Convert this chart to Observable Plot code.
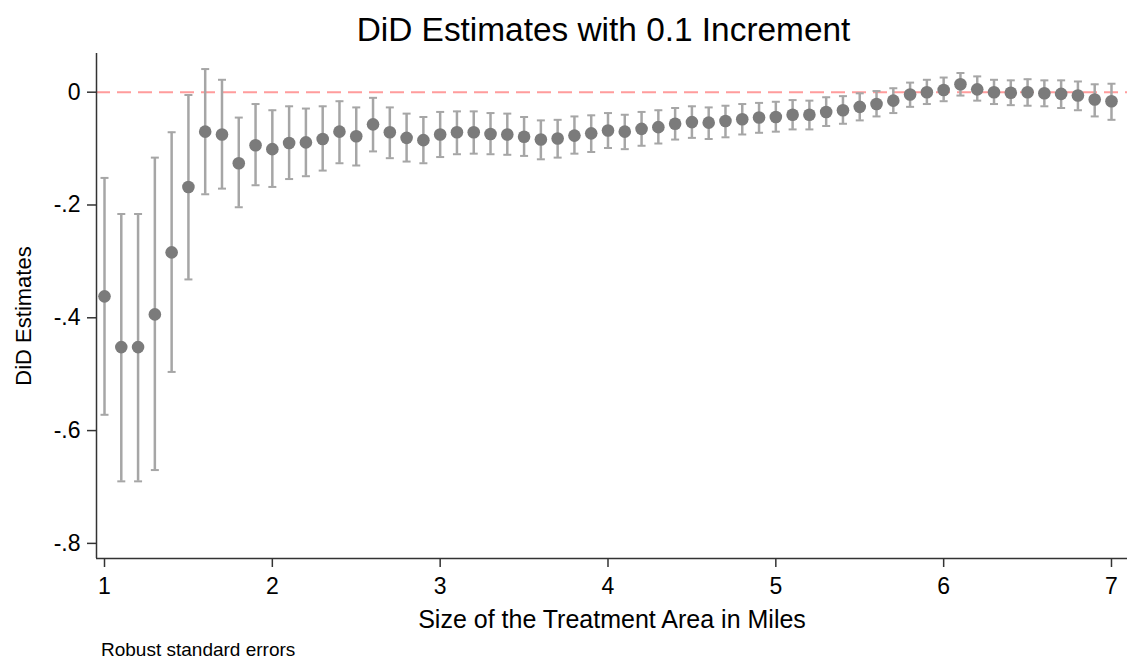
<!DOCTYPE html>
<html>
<head>
<meta charset="utf-8">
<script src="https://cdn.jsdelivr.net/npm/d3@7"></script>
<script src="https://cdn.jsdelivr.net/npm/@observablehq/plot@0.6"></script>
<style>
  html, body { margin: 0; padding: 0; background: #fff; }
  #wrap { position: relative; width: 1127px; height: 660px; overflow: hidden; font-family: "Liberation Sans", Arial, sans-serif; }
  #title { position: absolute; top: 13.4px; left: 603.5px; transform: translateX(-50%); font-size: 33.4px; line-height: 33.4px; white-space: nowrap; color: #000; }
  #chart { position: absolute; top: 50px; left: 0; }
  #caption { position: absolute; top: 640px; left: 101px; font-size: 19px; line-height: 19px; white-space: nowrap; color: #000; }
</style>
</head>
<body>
<div id="wrap">
  <div id="title">DiD Estimates with 0.1 Increment</div>
  <div id="chart"></div>
  <div id="caption">Robust standard errors</div>
</div>
<script>
const miles = [1.0,1.1,1.2,1.3,1.4,1.5,1.6,1.7,1.8,1.9,
               2.0,2.1,2.2,2.3,2.4,2.5,2.6,2.7,2.8,2.9,
               3.0,3.1,3.2,3.3,3.4,3.5,3.6,3.7,3.8,3.9,
               4.0,4.1,4.2,4.3,4.4,4.5,4.6,4.7,4.8,4.9,
               5.0,5.1,5.2,5.3,5.4,5.5,5.6,5.7,5.8,5.9,
               6.0,6.1,6.2,6.3,6.4,6.5,6.6,6.7,6.8,6.9,7.0];
const estimate = [-0.362,-0.452,-0.452,-0.394,-0.284,-0.168,-0.070,-0.075,-0.126,-0.094,
                  -0.101,-0.090,-0.089,-0.083,-0.070,-0.078,-0.057,-0.071,-0.081,-0.085,
                  -0.075,-0.071,-0.071,-0.074,-0.075,-0.079,-0.084,-0.082,-0.077,-0.073,
                  -0.068,-0.070,-0.065,-0.062,-0.056,-0.053,-0.054,-0.051,-0.048,-0.045,
                  -0.044,-0.040,-0.040,-0.035,-0.032,-0.026,-0.021,-0.015,-0.004,0.000,
                  0.004,0.014,0.005,0.000,-0.001,0.000,-0.002,-0.003,-0.006,-0.013,-0.016];
const lower = [-0.572,-0.690,-0.690,-0.670,-0.496,-0.332,-0.181,-0.171,-0.204,-0.165,
               -0.168,-0.154,-0.149,-0.139,-0.126,-0.130,-0.105,-0.117,-0.123,-0.126,
               -0.115,-0.110,-0.109,-0.110,-0.111,-0.113,-0.119,-0.116,-0.109,-0.106,
               -0.099,-0.101,-0.095,-0.091,-0.084,-0.081,-0.083,-0.080,-0.075,-0.072,
               -0.070,-0.066,-0.066,-0.060,-0.056,-0.050,-0.043,-0.037,-0.026,-0.021,
               -0.016,-0.006,-0.015,-0.021,-0.023,-0.024,-0.025,-0.028,-0.032,-0.043,-0.049];
const upper = [-0.152,-0.216,-0.216,-0.116,-0.071,-0.005,0.041,0.022,-0.045,-0.021,
               -0.032,-0.025,-0.029,-0.025,-0.016,-0.027,-0.010,-0.027,-0.038,-0.044,
               -0.035,-0.034,-0.034,-0.037,-0.038,-0.044,-0.050,-0.049,-0.043,-0.041,
               -0.037,-0.040,-0.035,-0.032,-0.028,-0.025,-0.027,-0.024,-0.021,-0.019,
               -0.017,-0.014,-0.015,-0.009,-0.007,-0.002,0.002,0.007,0.017,0.022,
               0.026,0.034,0.028,0.022,0.021,0.023,0.021,0.021,0.019,0.014,0.015];
const xTicks = [1,2,3,4,5,6,7];
const yTicks = [0,-0.2,-0.4,-0.6,-0.8];
const xDomain = [0.9523, 7.0954];
const yDomain = [-0.8268, 0.0686];
const xLabel = "Size of the Treatment Area in Miles";
const yLabel = "DiD Estimates";

const data = miles.map((m, i) => ({miles: m, est: estimate[i], lo: lower[i], hi: upper[i]}));

const cap = { draw(ctx, size) { const w = Math.sqrt(size / Math.PI); ctx.moveTo(-w, 0); ctx.lineTo(w, 0); } };
const fmt = d => d === 0 ? "0" : d3.format(".1f")(d).replace("\u2212", "-").replace("0.", ".");
const axisColor = "#333";
const barColor = "#a6a6a6";
const dotColor = "#7b7b7b";

const chart = Plot.plot({
  width: 1127,
  height: 590,
  marginTop: 3,
  marginBottom: 82,
  marginLeft: 96,
  marginRight: 0,
  style: { fontFamily: "'Liberation Sans', Arial, sans-serif", fontSize: "23px", color: "#000", background: "#fff" },
  x: { domain: xDomain, label: null },
  y: { domain: yDomain, label: null },
  marks: [
    Plot.ruleY([0], { stroke: "#ff9c9c", strokeWidth: 2, strokeDasharray: "14,7" }),
    Plot.ruleX(data, { x: "miles", y1: "lo", y2: "hi", stroke: barColor, strokeWidth: 2.5 }),
    Plot.dot(data, { x: "miles", y: "hi", symbol: cap, r: 4, fill: "none", stroke: barColor, strokeWidth: 2 }),
    Plot.dot(data, { x: "miles", y: "lo", symbol: cap, r: 4, fill: "none", stroke: barColor, strokeWidth: 2 }),
    Plot.dot(data, { x: "miles", y: "est", r: 6.3, fill: dotColor, stroke: "none" }),
    Plot.ruleX([xDomain[0]], { stroke: axisColor, strokeWidth: 1.5 }),
    Plot.ruleY([yDomain[0]], { stroke: axisColor, strokeWidth: 1.5 }),
    Plot.axisY({ ticks: yTicks, tickFormat: fmt, tickSize: 9, tickPadding: 7, stroke: axisColor, strokeWidth: 1.5, label: null, fontSize: 23, fill: "#000" }),
    Plot.axisX({ ticks: xTicks, tickFormat: d3.format("d"), tickSize: 9, tickPadding: 10, stroke: axisColor, strokeWidth: 1.5, label: null, fontSize: 23, fill: "#000" }),
    Plot.text([xLabel], { frameAnchor: "bottom", dy: 61, lineAnchor: "middle", fontSize: 25, fill: "#000" }),
    Plot.text([yLabel], { frameAnchor: "left", dx: -73, dy: 10, rotate: -90, lineAnchor: "middle", textAnchor: "middle", fontSize: 22, fill: "#000" })
  ]
});
document.getElementById("chart").appendChild(chart);
</script>
</body>
</html>
